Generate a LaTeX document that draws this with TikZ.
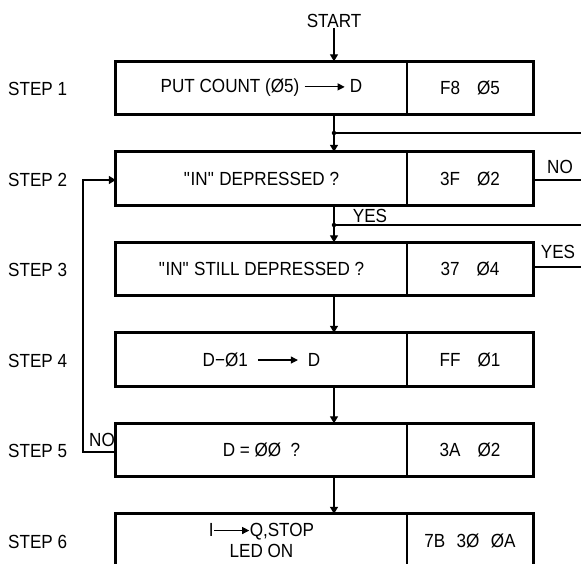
\documentclass[tikz,border=0pt]{standalone}
\usepackage{fontspec}
\setmainfont{Liberation Sans}[FakeStretch=0.9]
\usetikzlibrary{arrows.meta}
\newcommand\harr[1]{\tikz[baseline=-0.6ex]\draw[line width=1.1pt,-{Triangle[width=7pt,length=7pt]}] (0pt,0pt)--(#1,0pt);}
\newcommand\qq{\textquotedbl}
\begin{document}
\begin{tikzpicture}[x=1pt,y=-1pt,
  every node/.style={font=\fontsize{19}{20}\selectfont, inner sep=0pt},
  cellL/.style={minimum width=291pt, minimum height=53pt, align=center},
  cellR/.style={minimum width=126pt, minimum height=53pt},
  boxline/.style={line width=3pt},
  divline/.style={line width=1.4pt},
  conn/.style={line width=1.3pt},
  arr/.style={conn,-{Triangle[width=8pt,length=7pt]}},
  lbl/.style={anchor=west},
  jdot/.style={circle,fill,minimum size=4.5pt,inner sep=0pt}]
\useasboundingbox (0,0) rectangle (581,563);
\clip (0,0) rectangle (581,563);

% step labels
\node[lbl] (s1) at (8,89) {STEP 1};
\node[lbl] (s2) at (8,180) {STEP 2};
\node[lbl] (s3) at (8,270) {STEP 3};
\node[lbl] (s4) at (8,361) {STEP 4};
\node[lbl] (s5) at (8,451) {STEP 5};
\node[lbl] (s6) at (8,542) {STEP 6};

% boxes
\node[cellL] (b1) at (261.5,88) {PUT COUNT (Ø5)\ \harr{40pt}\ D};
\node[cellR] (c1) at (470,88) {F8\hspace{0.9em}Ø5};
\node[cellL] (b2) at (261.5,178.5) {\qq IN\qq{} DEPRESSED ?};
\node[cellR] (c2) at (470,178.5) {3F\hspace{0.9em}Ø2};
\node[cellL] (b3) at (261.5,269) {\qq IN\qq{} STILL DEPRESSED ?};
\node[cellR] (c3) at (470,269) {37\hspace{0.9em}Ø4};
\node[cellL] (b4) at (261.5,359.5) {D−Ø1\ \ \harr{40pt}\ \ D};
\node[cellR] (c4) at (470,359.5) {FF\hspace{0.9em}Ø1};
\node[cellL] (b5) at (261.5,450) {D = ØØ\ \ ?};
\node[cellR] (c5) at (470,450) {3A\hspace{0.9em}Ø2};
\node[cellL] (b6) at (261.5,540.5) {I\harr{35pt}Q,STOP\\[1pt]LED ON};
\node[cellR] (c6) at (470,540.5) {7B\hspace{0.6em}3Ø\hspace{0.6em}ØA};

\foreach \i in {1,...,6}{
  \draw[boxline] (b\i.north west) rectangle (c\i.south east);
  \draw[divline] (c\i.north west) -- (c\i.south west);
}

% spine
\coordinate (sp) at (334,0);
\node (start) at (334,21) {START};
\draw[arr] (start.south) -- (b1.north -| start);
\draw[arr] (b1.south -| sp) -- (b2.north -| sp);
\draw[arr] (b2.south -| sp) -- (b3.north -| sp);
\draw[arr] (b3.south -| sp) -- (b4.north -| sp);
\draw[arr] (b4.south -| sp) -- (b5.north -| sp);
\draw[arr] (b5.south -| sp) -- (b6.north -| sp);

% junctions and right-hand lines
\node[jdot] (j1) at (334,133) {};
\node[jdot] (j2) at (334,225) {};
\coordinate (e1) at (581,133);
\coordinate (e2) at (581,180);
\coordinate (e3) at (581,225);
\coordinate (e4) at (581,267);
\draw[conn] (j1.center) -- (e1);
\draw[conn] (j2.center) -- (e3);
\draw[conn] (c2.east |- e2) -- (e2);
\draw[conn] (c3.east |- e4) -- (e4);
\node (no1) at (560,167) {NO};
\node (yes1) at (370,216) {YES};
\node (yes2) at (558,252) {YES};

% loop back from step 5 to step 2
\coordinate (lp) at (83,452);
\coordinate (lt) at (83,180);
\draw[arr] (b5.west |- lp) -- (lp) -- (lt) -- (b2.west |- lt);
\node (no2) at (102,440) {NO};
\end{tikzpicture}
\end{document}
